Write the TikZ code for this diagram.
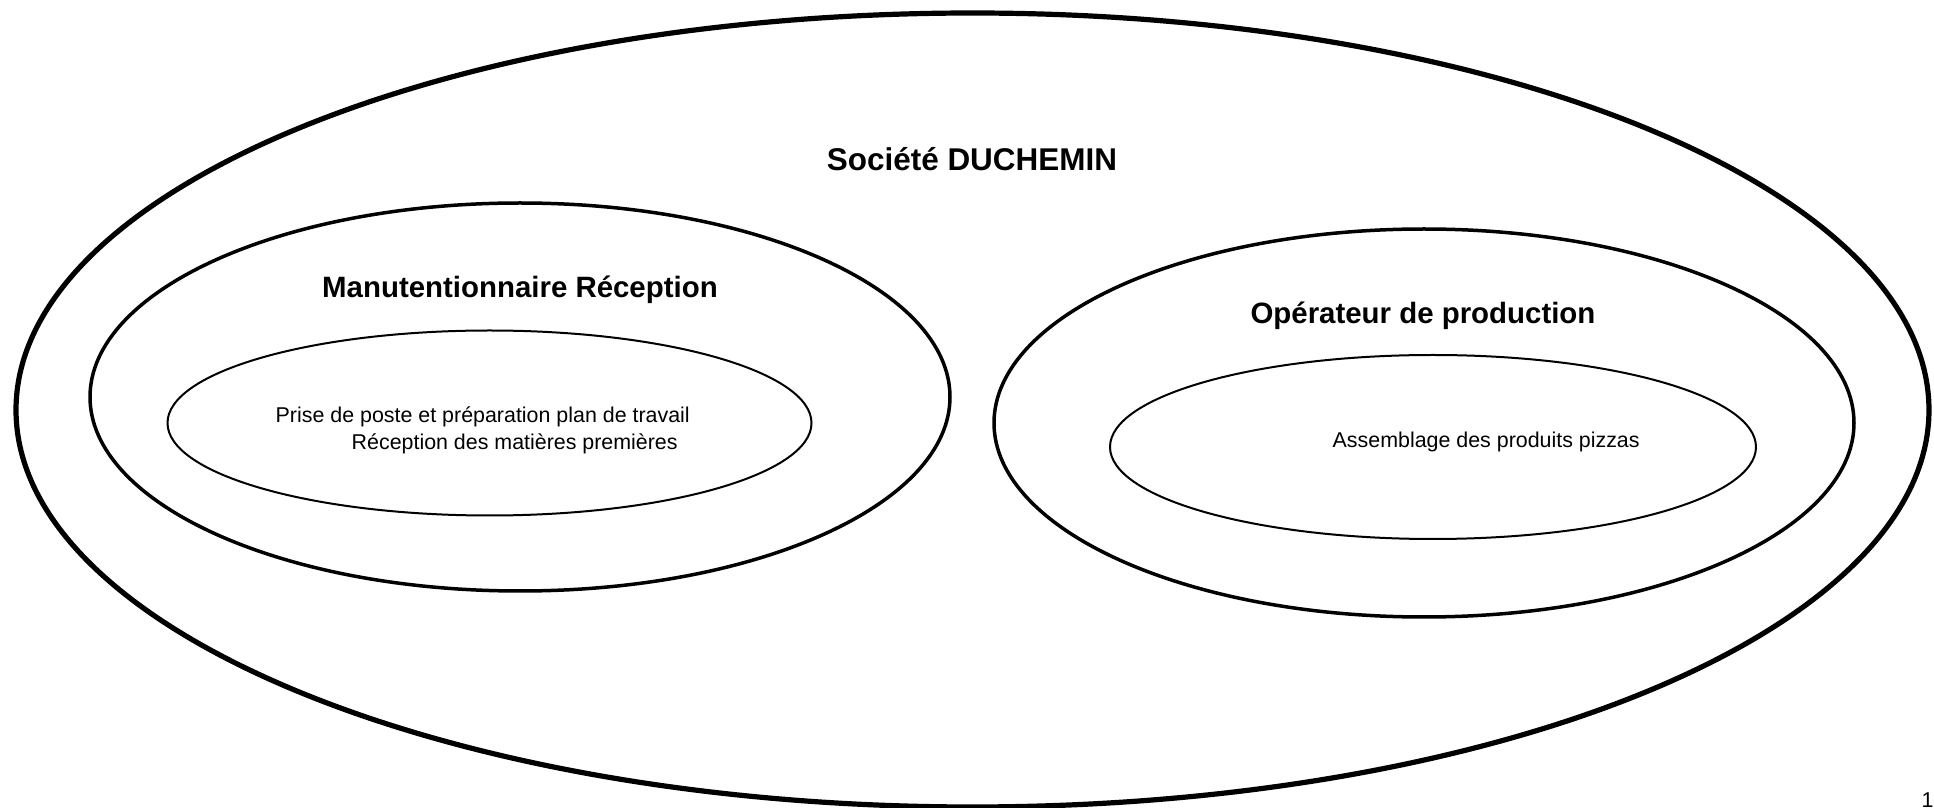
\documentclass[tikz,border=0pt]{standalone}
\usepackage{fontspec}
\setmainfont{Liberation Sans}
\usetikzlibrary{shapes.geometric}
\tikzset{
  ell/.style={shape=ellipse, draw=black, fill=none, inner sep=0pt},
  outerell/.style={ell, line width=0.52mm},
  midell/.style={ell, line width=0.35mm},
  innerell/.style={ell, line width=0.2mm},
  titletext/.style={inner sep=0pt, anchor=base, font=\fontsize{8.95pt}{10pt}\selectfont\bfseries},
  headtext/.style={inner sep=0pt, anchor=base, font=\fontsize{8.37pt}{10pt}\selectfont\bfseries},
  smalltext/.style={inner sep=0pt, anchor=base west, font=\fontsize{6.09pt}{7pt}\selectfont},
}
\begin{document}
\begin{tikzpicture}[x=0.1mm, y=-0.1mm]
\useasboundingbox (0,0) rectangle (1934,808);
% outer
\node[outerell, minimum width=191.3mm, minimum height=79.4mm] (soc) at (972.5,410) {};
% middle ellipses
\node[midell, minimum width=86mm, minimum height=38.8mm] (manu) at (520,397) {};
\node[midell, minimum width=86mm, minimum height=38.8mm] (oper) at (1424,423) {};
% inner ellipses
\node[innerell, minimum width=64.4mm, minimum height=18.5mm] (manuin) at (489.5,423) {};
\node[innerell, minimum width=64.6mm, minimum height=18.4mm] (operin) at (1433,447) {};
% texts
\node[titletext] (soct) at (972,171) {Société DUCHEMIN};
\node[headtext] (manut) at (520,298) {Manutentionnaire Réception};
\node[headtext] (opert) at (1423,324) {Opérateur de production};
\node[smalltext] (l1) at (275,423) {Prise de poste et préparation plan de travail};
\node[smalltext] (l2) at (351,450) {Réception des matières premières};
\node[smalltext] (l3) at (1332,448) {Assemblage des produits pizzas};
\node[smalltext] (pg) at (1921,808) {1};
\end{tikzpicture}
\end{document}
